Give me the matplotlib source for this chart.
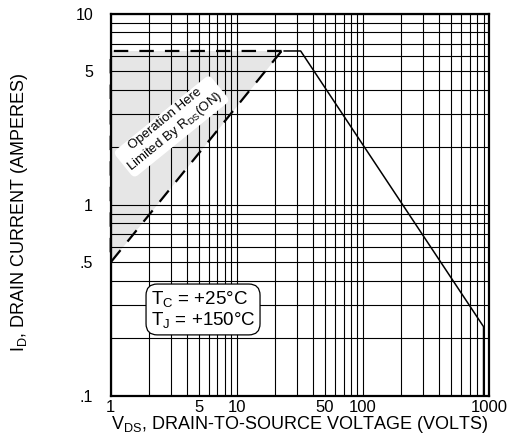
import matplotlib
matplotlib.use("Agg")
import matplotlib.pyplot as plt
from matplotlib.ticker import FixedLocator, FixedFormatter, NullFormatter
import numpy as np

plt.rcParams['font.family'] = ['Liberation Sans', 'DejaVu Sans']
plt.rcParams['mathtext.fontset'] = 'custom'
plt.rcParams['mathtext.rm'] = 'Liberation Sans'
plt.rcParams['mathtext.it'] = 'Liberation Sans'

# SOA boundary (solid)
soa_v = [23.7, 32, 900, 900]
soa_i = [6.4, 6.4, 0.23, 0.1]

# R_DS(on) limited region (dashed outline, shaded)
rds_v = [22.6, 1, 1, 22.6]
rds_i = [6.4, 6.4, 0.5, 6.4]

x_ticks = [1, 5, 10, 50, 100, 1000]
x_ticklabels = ['1', '5', '10', '50', '100', '1000']
y_ticks = [0.1, 0.5, 1, 5, 10]
y_ticklabels = ['.1', '.5', '1', '5', '10']

fig = plt.figure(figsize=(5.09, 4.44), dpi=100)
ax = fig.add_axes([0.2175, 0.1088, 0.7438, 0.8597])
ax.set_xscale('log')
ax.set_yscale('log')
ax.set_xlim(1, 1000)
ax.set_ylim(0.1, 10)

xminor = [m * 10**d for d in range(0, 3) for m in range(1, 10)] + [1000]
yminor = [m * 10**d for d in range(-1, 1) for m in range(1, 10)] + [10]
ax.xaxis.set_major_locator(FixedLocator(x_ticks))
ax.xaxis.set_major_formatter(FixedFormatter(x_ticklabels))
ax.xaxis.set_minor_locator(FixedLocator(xminor))
ax.xaxis.set_minor_formatter(NullFormatter())
ax.yaxis.set_major_locator(FixedLocator(y_ticks))
ax.yaxis.set_major_formatter(FixedFormatter(y_ticklabels))
ax.yaxis.set_minor_locator(FixedLocator(yminor))
ax.yaxis.set_minor_formatter(NullFormatter())
ax.tick_params(which='both', length=0)
ax.tick_params(axis='x', pad=3.2, labelsize=12)
ax.tick_params(axis='y', pad=12.7, labelsize=11.5)
ax.grid(which='both', color='black', lw=0.8, zorder=1)
for s in ax.spines.values():
    s.set_linewidth(1.6)
    s.set_zorder(5)

ax.fill(rds_v, rds_i, color='#e6e6e6', lw=0, zorder=0.5)
ax.plot(rds_v, rds_i, color='black', lw=1.6, dashes=(6.5, 5), zorder=6,
        clip_on=False)
ax.plot(soa_v, soa_i, color='black', lw=1.1, zorder=3)

ax.text(3.0, 2.6, 'Operation Here\nLimited By R$_{\\mathregular{DS}}$(ON)',
        rotation=39, ha='center', va='center', multialignment='center',
        fontsize=9.5, linespacing=1.2, zorder=4, rotation_mode='anchor',
        bbox=dict(boxstyle='round,pad=0.2,rounding_size=0.4', fc='white', ec='none'))

ax.text(5.39, 0.283, 'T$_{\\mathregular{C}}$ = +25°C\nT$_{\\mathregular{J}}$ = +150°C',
        ha='center', va='center', multialignment='left', fontsize=13.5,
        linespacing=1.1, zorder=4,
        bbox=dict(boxstyle='round,pad=0.25,rounding_size=0.6', fc='white', ec='black', lw=0.9))

ax.set_xlabel('V$_{\\mathregular{DS}}$, DRAIN-TO-SOURCE VOLTAGE (VOLTS)', fontsize=13)
ax.xaxis.set_label_coords(0.5, -0.049)
ax.set_ylabel('I$_{\\mathregular{D}}$, DRAIN CURRENT (AMPERES)', fontsize=13)
ax.yaxis.set_label_coords(-0.214, 0.48)

fig.savefig('out.png', dpi=100)
